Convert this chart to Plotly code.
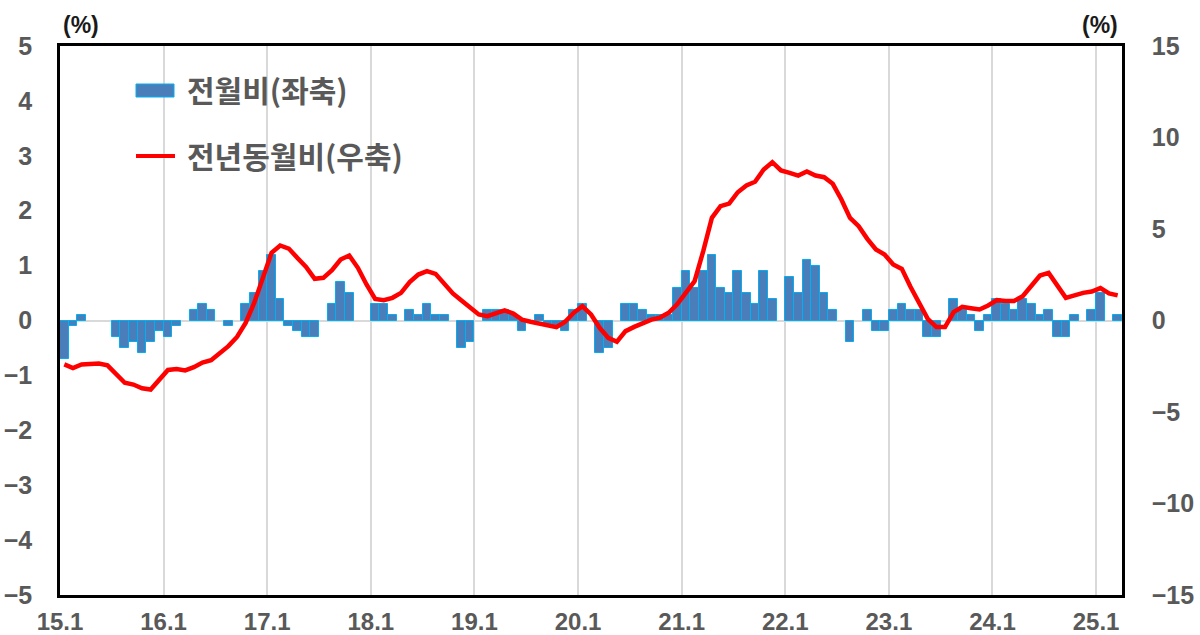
import plotly.graph_objects as go

# ---- data ----
tick_labels = ["15.1", "16.1", "17.1", "18.1", "19.1", "20.1",
               "21.1", "22.1", "23.1", "24.1", "25.1"]

# 전월비 (month-on-month, %), 2015.1 - 2025.3
mom_2015 = [-0.7, -0.1, 0.1, 0.0, 0.0, 0.0, -0.3, -0.5, -0.4, -0.6, -0.4, -0.2]
mom_2016 = [-0.3, -0.1, 0.0, 0.2, 0.3, 0.2, 0.0, -0.1, 0.0, 0.3, 0.5, 0.9]
mom_2017 = [1.2, 0.4, -0.1, -0.2, -0.3, -0.3, 0.0, 0.3, 0.7, 0.5, 0.0, 0.0]
mom_2018 = [0.3, 0.3, 0.1, 0.0, 0.2, 0.1, 0.3, 0.1, 0.1, 0.0, -0.5, -0.4]
mom_2019 = [0.0, 0.2, 0.2, 0.2, 0.1, -0.2, 0.0, 0.1, -0.1, -0.1, -0.2, 0.2]
mom_2020 = [0.3, 0.0, -0.6, -0.5, 0.0, 0.3, 0.3, 0.2, 0.1, 0.1, 0.1, 0.6]
mom_2021 = [0.9, 0.6, 0.9, 1.2, 0.6, 0.5, 0.9, 0.5, 0.3, 0.9, 0.4, 0.0]
mom_2022 = [0.8, 0.5, 1.1, 1.0, 0.5, 0.2, 0.0, -0.4, 0.0, 0.2, -0.2, -0.2]
mom_2023 = [0.2, 0.3, 0.2, 0.2, -0.3, -0.3, 0.0, 0.4, 0.2, 0.1, -0.2, 0.1]
mom_2024 = [0.4, 0.3, 0.2, 0.4, 0.3, 0.1, 0.2, -0.3, -0.3, 0.1, 0.0, 0.2]
mom_2025 = [0.5, 0.0, 0.1]

# 전년동월비 (year-on-year, %), 2015.1 - 2025.3
yoy_2015 = [-2.4, -2.6, -2.4, -2.35, -2.35, -2.45, -2.95, -3.4, -3.5, -3.7, -3.77, -3.2]
yoy_2016 = [-2.7, -2.65, -2.73, -2.55, -2.3, -2.17, -1.8, -1.4, -0.9, -0.13, 0.97, 2.37]
yoy_2017 = [3.7, 4.1, 3.93, 3.42, 2.93, 2.28, 2.33, 2.75, 3.33, 3.55, 2.88, 1.97]
yoy_2018 = [1.18, 1.11, 1.24, 1.51, 2.1, 2.51, 2.7, 2.55, 1.97, 1.48, 1.09, 0.69]
yoy_2019 = [0.33, 0.24, 0.38, 0.55, 0.38, 0.05, -0.07, -0.16, -0.27, -0.36, -0.07, 0.42]
yoy_2020 = [0.78, 0.33, -0.4, -0.95, -1.16, -0.58, -0.35, -0.13, 0.05, 0.16, 0.42, 0.9]
yoy_2021 = [1.5, 2.15, 3.79, 5.61, 6.25, 6.39, 7.01, 7.38, 7.58, 8.25, 8.65, 8.2]
yoy_2022 = [8.07, 7.92, 8.14, 7.92, 7.83, 7.47, 6.61, 5.61, 5.15, 4.46, 3.88, 3.61]
yoy_2023 = [3.06, 2.82, 1.84, 0.93, 0.09, -0.36, -0.36, 0.46, 0.75, 0.67, 0.6, 0.82]
yoy_2024 = [1.11, 1.06, 1.07, 1.33, 1.88, 2.46, 2.6, 1.91, 1.24, 1.37, 1.51, 1.58]
yoy_2025 = [1.77, 1.48, 1.37]

series_names = ["전월비(좌축)", "전년동월비(우축)"]
unit_label = "(%)"

mom = (mom_2015 + mom_2016 + mom_2017 + mom_2018 + mom_2019 + mom_2020 +
       mom_2021 + mom_2022 + mom_2023 + mom_2024 + mom_2025)
yoy = (yoy_2015 + yoy_2016 + yoy_2017 + yoy_2018 + yoy_2019 + yoy_2020 +
       yoy_2021 + yoy_2022 + yoy_2023 + yoy_2024 + yoy_2025)

n = len(mom)
xpos = [i + 0.5 for i in range(n)]
tickvals = [12 * k for k in range(len(tick_labels))]
# zero-change months draw no bar (avoid an outline sitting on the zero line)
mom_bars = [v if v != 0 else None for v in mom]

# ---- layout geometry (pixels) ----
W, H = 1200, 635
L, R, T, B = 60, 1122, 46, 595


def px(x):
    return (x - L) / (R - L)


def py(y):
    return (B - y) / (B - T)


GRAY = "#595959"
NUM_FONT = "Liberation Sans, Arial, sans-serif"
KR_FONT = "Noto Sans CJK KR, sans-serif"
BAR_FILL = "#4a7ebb"
BAR_EDGE = "#00b0f0"

fig = go.Figure()
fig.add_trace(go.Bar(
    x=xpos, y=mom_bars, name=series_names[0], yaxis="y",
    marker=dict(color=BAR_FILL, line=dict(color=BAR_EDGE, width=1)),
    showlegend=False,
))
fig.add_trace(go.Scatter(
    x=xpos, y=yoy, name=series_names[1], yaxis="y2", mode="lines",
    line=dict(color="#ff0000", width=4.5),
    showlegend=False,
))

tickfont = dict(family=NUM_FONT, size=25, color=GRAY, weight="bold")
xtickfont = dict(family=NUM_FONT, size=24, color=GRAY, weight="bold")

fig.update_layout(
    width=W, height=H,
    margin=dict(l=L, r=W - R, t=T, b=H - B, pad=0, autoexpand=False),
    plot_bgcolor="white", paper_bgcolor="white",
    bargap=0,
    xaxis=dict(
        range=[0, n], tickvals=tickvals, ticktext=tick_labels,
        showgrid=True, gridcolor="#d9d9d9", gridwidth=1.5,
        showline=True, linecolor="black", linewidth=2.5, mirror=True,
        ticks="", tickfont=xtickfont, ticklabelstandoff=3,
        zeroline=False, automargin=False,
    ),
    yaxis=dict(
        range=[-5, 5], dtick=1, showgrid=False,
        zeroline=True, zerolinecolor="#d9d9d9", zerolinewidth=2,
        showline=True, linecolor="black", linewidth=2.5,
        ticks="", tickfont=tickfont, ticklabelstandoff=20,
        automargin=False,
    ),
    yaxis2=dict(
        range=[-15, 15], dtick=5, overlaying="y", side="right",
        showgrid=False, zeroline=False,
        showline=True, linecolor="black", linewidth=2.5,
        ticks="", tickfont=tickfont, ticklabelstandoff=22,
        automargin=False,
    ),
)

annotations = [
    dict(text=unit_label, x=px(81), y=py(25), xref="paper", yref="paper",
         showarrow=False, xanchor="center", yanchor="middle",
         font=dict(family=NUM_FONT, size=23, color="#1a1a1a", weight="bold")),
    dict(text=unit_label, x=px(1100), y=py(25), xref="paper", yref="paper",
         showarrow=False, xanchor="center", yanchor="middle",
         font=dict(family=NUM_FONT, size=23, color="#1a1a1a", weight="bold")),
    dict(text=series_names[0], x=px(185), y=py(89), xref="paper", yref="paper",
         showarrow=False, xanchor="left", yanchor="middle",
         font=dict(family=KR_FONT, size=30, color=GRAY, weight="bold")),
    dict(text=series_names[1], x=px(185), y=py(155), xref="paper", yref="paper",
         showarrow=False, xanchor="left", yanchor="middle",
         font=dict(family=KR_FONT, size=30, color=GRAY, weight="bold")),
]
shapes = [
    dict(type="rect", xref="paper", yref="paper",
         x0=px(136), x1=px(174), y0=py(97), y1=py(84),
         fillcolor=BAR_FILL, line=dict(color=BAR_EDGE, width=1)),
    dict(type="line", xref="paper", yref="paper",
         x0=px(136), x1=px(175), y0=py(156), y1=py(156),
         line=dict(color="#ff0000", width=4)),
]
fig.update_layout(annotations=annotations, shapes=shapes)

fig.write_html("out.html",
               config={"displayModeBar": False},
               post_script="document.body.style.margin='0px';")
